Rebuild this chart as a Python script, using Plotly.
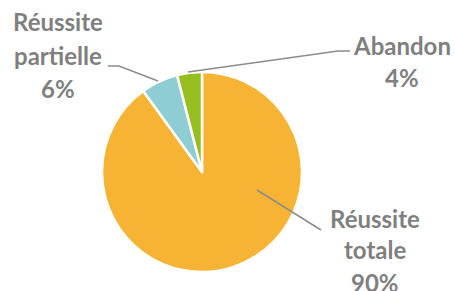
import plotly.graph_objects as go

categories = ["Réussite totale", "Réussite partielle", "Abandon"]
values = [90, 6, 4]
label_lines = [["Réussite", "totale", "90%"], ["Réussite", "partielle", "6%"], ["Abandon", "4%"]]
colors = ["#F7B334", "#8ECDD4", "#96BE1E"]

W, H = 455, 291


def px(x):
    return x / W


def py(y):
    return 1 - y / H


fig = go.Figure()
fig.add_trace(go.Pie(
    labels=categories,
    values=values,
    sort=False,
    direction="clockwise",
    rotation=0,
    marker=dict(colors=colors, line=dict(color="white", width=2.5)),
    textinfo="none",
    hoverinfo="label+percent",
    domain=dict(x=[px(102), px(302)], y=[py(272), py(72)]),
    showlegend=False,
))

# label positions (center x, first line y, line spacing) in pixels
label_pos = [(375, 218, 32), (58, 22, 33), (402, 45, 33)]
annotations = []
for lines, (cx, y0, dy) in zip(label_lines, label_pos):
    for i, t in enumerate(lines):
        annotations.append(dict(
            x=px(cx), y=py(y0 + i * dy), xref="paper", yref="paper",
            text=t, showarrow=False, xanchor="center", yanchor="middle",
            font=dict(family="Lato", size=24, color="#7F7F7F", weight="bold"),
        ))

leader_lines = [
    [(257, 190), (321, 230)],
    [(108, 66), (119, 66), (158, 81)],
    [(188, 72), (338, 51), (350, 51)],
]
shapes = []
for pts in leader_lines:
    path = "M " + " L ".join(f"{px(x)} {py(y)}" for x, y in pts)
    shapes.append(dict(type="path", path=path, xref="paper", yref="paper",
                       line=dict(color="#8C8C8C", width=1.5)))

fig.update_layout(
    width=W, height=H,
    margin=dict(l=0, r=0, t=0, b=0),
    paper_bgcolor="white", plot_bgcolor="white",
    annotations=annotations,
    shapes=shapes,
)

fig.write_html(
    "out.html",
    config={"displayModeBar": False},
    post_script="document.body.style.margin='0';document.body.style.overflow='hidden';",
)
